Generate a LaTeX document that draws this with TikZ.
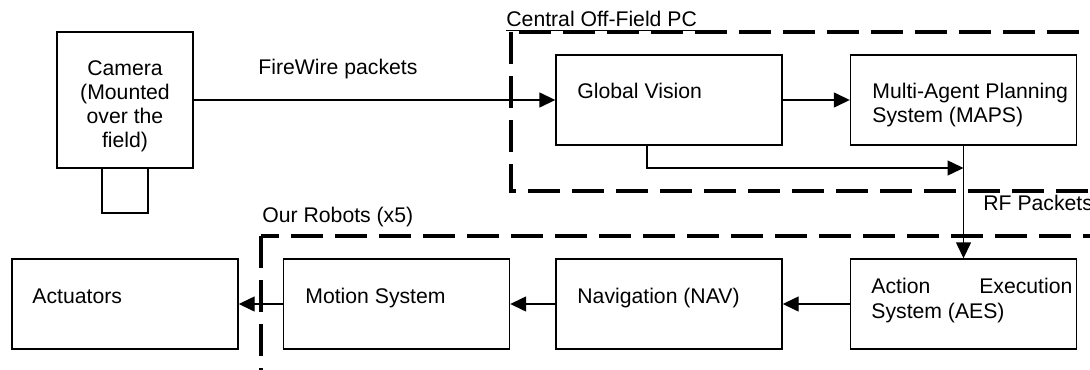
\documentclass[tikz,border=0pt]{standalone}
\usepackage{fontspec}
\setmainfont{Liberation Sans}
\usetikzlibrary{arrows.meta}

\begin{document}
\begin{tikzpicture}[x=0.5pt, y=-0.5pt,
  font=\fontsize{10.6}{12.1}\selectfont,
  blok/.style={rectangle, draw, line width=0.7pt, inner sep=0pt, minimum width=113pt, minimum height=45pt},
  tekst/.style={inner sep=0pt, anchor=base west, align=left},
  grens/.style={line width=1.65pt, dash pattern=on 16pt off 6pt},
  pijl/.style={line width=0.7pt, -{Triangle[length=8pt, width=7.5pt]}}]

\clip (0,0) rectangle (1090,369);

% dashed groups
\draw[grens] (511,32) rectangle (1120,191);
\draw[grens] (261,236) rectangle (1120,420);
\node[tekst] (pc) at (506,27) {\underline{Central} \underline{Off}-\underline{Field} \underline{PC}};
\node[tekst] (robots) at (262,222) {Our Robots (x5)};

% camera
\node[blok, minimum width=68pt, minimum height=68pt] (cam) at (125,100) {};
\node[blok, minimum width=23pt, minimum height=22.5pt] (lens) at (125,190.5) {};
\node[inner sep=0pt, anchor=base, align=center] (camtekst) at (125,148) {Camera\\(Mounted\\over the\\field)};

% central PC
\node[blok] (gv) at (669,100) {};
\node[tekst] (gvtekst) at (577,98) {Global Vision};
\node[blok] (maps) at (963.5,100) {};
\node[tekst] (mapstekst) at (872,122.5) {Multi-Agent Planning\\System (MAPS)};

% robots
\node[blok] (aes) at (963.5,304) {};
\node[tekst] (aestekst) at (871,318) {\makebox[100.5pt][s]{Action Execution}\\System (AES)};
\node[blok] (nav) at (669,304) {};
\node[tekst] (navtekst) at (577,303) {Navigation (NAV)};
\node[blok] (motion) at (396.5,304) {};
\node[tekst] (motiontekst) at (305,303) {Motion System};
\node[blok] (act) at (125,304) {};
\node[tekst] (acttekst) at (32,303) {Actuators};

\node[tekst] (firewire) at (258,75) {FireWire packets};
\node[tekst] (rf) at (983,210) {RF Packets};

\coordinate (samen) at (963.5,168);
\draw[pijl] (cam) -- (gv);
\draw[pijl] (gv) -- (maps);
\draw[pijl] ([xshift=-11pt]gv.south) |- (samen);
\draw[pijl] (maps) -- (aes);
\draw[pijl] (aes) -- (nav);
\draw[pijl] (nav) -- (motion);
\draw[pijl] (motion) -- (act);
\end{tikzpicture}
\end{document}
